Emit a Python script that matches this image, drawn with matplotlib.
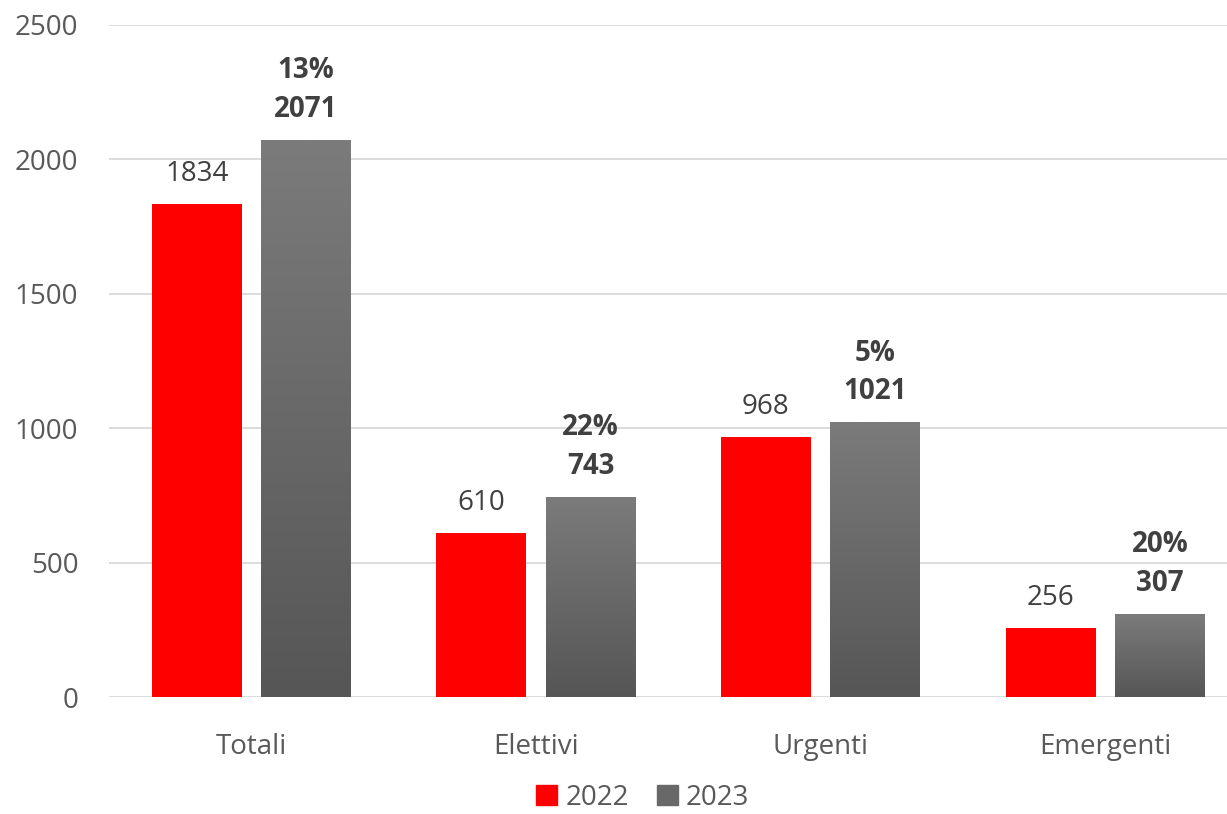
import numpy as np
import matplotlib
matplotlib.use("Agg")
import matplotlib.pyplot as plt
from matplotlib.colors import LinearSegmentedColormap
from matplotlib.patches import Patch

# ----- data -----
categories = ["Totali", "Elettivi", "Urgenti", "Emergenti"]
values_2022 = [1834, 610, 968, 256]
values_2023 = [2071, 743, 1021, 307]
pct_change = ["13%", "22%", "5%", "20%"]
series_names = ["2022", "2023"]

plt.rcParams['font.family'] = ['Open Sans', 'DejaVu Sans']

RED = '#ff0000'
GRAY_TOP = '#7b7b7b'
GRAY_BOT = '#565656'
TICK_COL = '#595959'
LABEL_COL = '#404040'

fig = plt.figure(figsize=(12.27, 8.14), dpi=100)
ax = fig.add_axes([0.0888, 0.1437, 0.928, 0.8256])

x = np.arange(len(categories))
offset = 0.192
width = 0.316

ax.bar(x - offset, values_2022, width, color=RED, zorder=3)

# gray bars with vertical gradient (lighter at the top)
gray_cmap = LinearSegmentedColormap.from_list('g', [GRAY_BOT, GRAY_TOP])
grad = np.linspace(0, 1, 256).reshape(-1, 1)
for xi, v in zip(x + offset, values_2023):
    ax.imshow(grad, cmap=gray_cmap, origin='lower', aspect='auto',
              extent=(xi - width / 2, xi + width / 2, 0, v), zorder=3)

# data labels
for xi, v in zip(x - offset, values_2022):
    ax.text(xi, v + 60, str(v), ha='center', va='bottom',
            fontsize=20, color=LABEL_COL, zorder=4)
for xi, v, p in zip(x + offset, values_2023, pct_change):
    ax.text(xi, v + 60, p + "\n" + str(v), ha='center', va='bottom',
            fontsize=20, fontweight='bold', color=LABEL_COL,
            linespacing=1.45, zorder=4)

ax.set_xlim(-0.5, len(categories) - 0.5)
ax.set_ylim(0, 2500)
ax.set_yticks(range(0, 2501, 500))
ax.set_xticks(x)
ax.set_xticklabels(categories)

ax.grid(axis='y', color='#d9d9d9', linewidth=1.3, zorder=0)
for s in ax.spines.values():
    s.set_visible(False)
ax.tick_params(axis='both', length=0, labelsize=20, labelcolor=TICK_COL)
ax.tick_params(axis='y', pad=22)
ax.tick_params(axis='x', pad=26)

handles = [Patch(color=RED), Patch(color='#686868')]
fig.legend(handles, series_names, loc='lower center', ncol=2,
           bbox_to_anchor=(0.524, -0.028), frameon=False, fontsize=20,
           labelcolor=TICK_COL, handlelength=0.75, handleheight=0.75,
           handletextpad=0.3, columnspacing=1.0)

fig.savefig("out.png", dpi=100)
